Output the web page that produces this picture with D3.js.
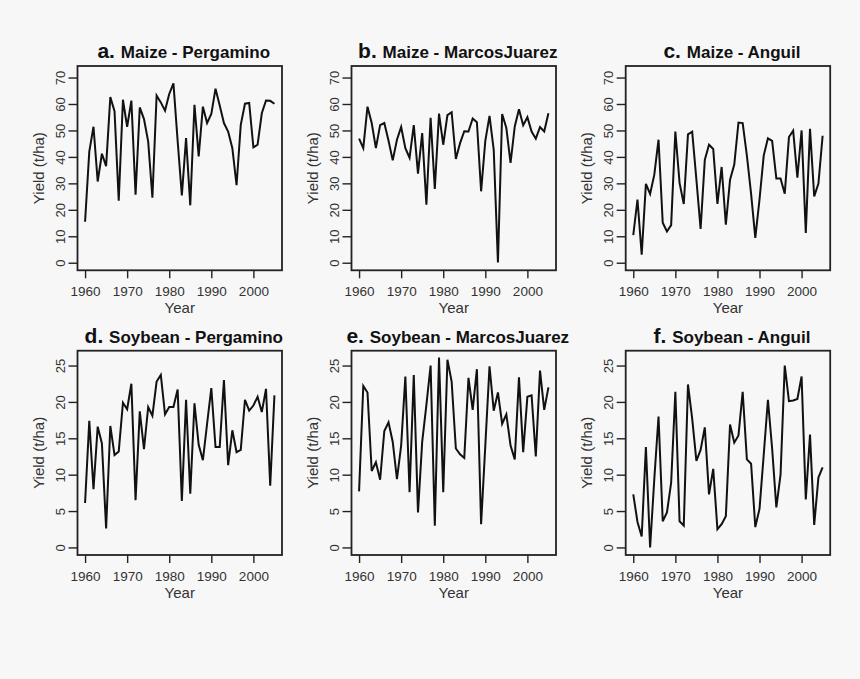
<!DOCTYPE html>
<html>
<head>
<meta charset="utf-8">
<script src="https://cdn.jsdelivr.net/npm/d3@7/dist/d3.min.js"></script>
<style>
  html, body { margin: 0; padding: 0; background: #f7f7f7; }
  svg { display: block; }
  text { font-family: "Liberation Sans", Arial, Helvetica, sans-serif; }
</style>
</head>
<body>
<svg id="chart" width="860" height="679"></svg>
<script>
// ---------------- DATA ----------------
const years = [1960,1961,1962,1963,1964,1965,1966,1967,1968,1969,
               1970,1971,1972,1973,1974,1975,1976,1977,1978,1979,
               1980,1981,1982,1983,1984,1985,1986,1987,1988,1989,
               1990,1991,1992,1993,1994,1995,1996,1997,1998,1999,
               2000,2001,2002,2003,2004,2005];

const maizePergamino = [15.5,42.0,51.4,30.7,41.2,36.5,62.6,57.3,23.4,61.6,
                        51.4,61.3,25.7,58.7,54.3,45.8,24.6,63.2,60.6,57.5,
                        63.8,67.8,46.0,25.4,47.1,21.7,59.7,40.2,59.0,52.8,
                        56.2,65.8,59.4,52.8,49.6,43.3,29.3,52.1,60.1,60.4,
                        43.6,44.6,56.5,61.3,61.2,60.1];
const maizeMarcosJuarez = [46.9,43.3,59.0,52.8,43.3,52.0,52.8,46.1,38.7,46.5,
                           51.3,43.3,39.7,52.0,33.7,49.0,21.9,54.8,27.9,56.4,
                           44.6,55.8,56.9,39.2,45.2,49.7,49.6,54.5,53.1,27.0,
                           46.1,55.5,42.7,0.1,56.2,50.9,37.7,51.5,58.0,52.0,
                           55.0,49.6,46.9,51.3,49.6,56.5];
const maizeAnguil = [10.4,23.9,3.0,29.8,26.0,33.3,46.5,15.1,11.8,14.2,
                     49.6,30.2,22.2,48.5,49.5,31.4,12.8,38.9,44.6,43.0,
                     22.2,36.2,14.4,31.4,37.1,53.0,52.8,40.5,26.0,9.4,
                     23.9,40.5,47.0,46.1,31.8,31.8,26.1,47.5,49.9,32.2,
                     50.0,11.3,50.6,25.1,29.9,48.0];
const soyPergamino = [6.1,17.4,8.0,16.6,14.3,2.6,16.7,12.7,13.2,19.9,
                      19.0,22.5,6.5,18.7,13.5,19.3,18.1,22.8,23.7,18.3,
                      19.3,19.3,21.7,6.4,20.3,7.4,19.8,14.1,12.0,17.0,
                      21.9,13.8,13.8,23.0,11.3,16.1,13.1,13.4,20.3,18.8,
                      19.5,20.7,18.6,21.8,8.5,20.9];
const soyMarcosJuarez = [7.7,22.2,21.3,10.5,11.7,9.3,16.0,17.2,14.5,9.4,
                         14.0,23.5,7.6,23.7,4.8,14.5,19.6,25.0,3.0,26.1,
                         7.6,25.8,22.8,13.6,12.8,12.3,23.3,18.9,24.5,3.2,
                         14.0,24.9,18.8,21.3,17.0,18.3,14.0,12.1,23.4,13.1,
                         20.7,20.9,12.5,24.3,18.9,22.0];
const soyAnguil = [7.3,3.5,1.5,13.8,0.0,9.4,18.0,3.6,4.8,8.9,
                   21.4,3.6,3.0,22.4,17.7,11.9,13.4,16.5,7.3,10.8,
                   2.5,3.2,4.3,16.9,14.4,15.4,21.4,12.1,11.5,2.8,
                   5.3,12.7,20.3,13.6,5.5,10.0,25.0,20.1,20.2,20.4,
                   23.5,6.6,15.5,3.1,9.6,11.0];

const panelLetters = ["a.", "b.", "c.", "d.", "e.", "f."];
const panelTitles = ["Maize - Pergamino", "Maize - MarcosJuarez", "Maize - Anguil",
                     "Soybean - Pergamino", "Soybean - MarcosJuarez", "Soybean - Anguil"];
const xTicks = [1960, 1970, 1980, 1990, 2000];
const yTicksMaize = [0, 10, 20, 30, 40, 50, 60, 70];
const yTicksSoy = [0, 5, 10, 15, 20, 25];
const xLabel = "Year";
const yLabel = "Yield (t/ha)";

// ---------------- LAYOUT ----------------
const seriesList = [maizePergamino, maizeMarcosJuarez, maizeAnguil,
                    soyPergamino, soyMarcosJuarez, soyAnguil];
const colLefts = [77.5, 351.5, 625.7];
const rowTops = [66, 350.7];
const plotW = 204.5;
const plotH = 204.3;
const xLim = [1960, 2005];
const yLimMaize = [0, 71.5];
const yLimSoy = [0, 26];
function padLim(l) { const d = (l[1] - l[0]) * 0.04; return [l[0] - d, l[1] + d]; }

const svg = d3.select("#chart");
svg.append("rect").attr("width", 860).attr("height", 679).attr("fill", "#f7f7f7");

seriesList.forEach((vals, i) => {
  const col = i % 3, row = Math.floor(i / 3);
  const left = colLefts[col], top = rowTops[row];
  const g = svg.append("g").attr("transform", `translate(${left},${top})`);

  const x = d3.scaleLinear().domain(padLim(xLim)).range([0, plotW]);
  const y = d3.scaleLinear().domain(padLim(row === 0 ? yLimMaize : yLimSoy)).range([plotH, 0]);
  const yTicks = row === 0 ? yTicksMaize : yTicksSoy;

  // x axis
  const xa = g.append("g").attr("transform", `translate(0,${plotH})`)
    .call(d3.axisBottom(x).tickValues(xTicks).tickFormat(d3.format("d")).tickSize(8).tickPadding(8));
  xa.select(".domain").remove();
  xa.selectAll(".tick line").attr("stroke", "#222").attr("stroke-width", 1.4);
  xa.selectAll(".tick text").attr("font-size", 13.5).attr("fill", "#333");

  // y axis
  const ya = g.append("g")
    .call(d3.axisLeft(y).tickValues(yTicks).tickSize(9).tickPadding(4));
  ya.select(".domain").remove();
  ya.selectAll(".tick line").attr("stroke", "#222").attr("stroke-width", 1.4);
  ya.selectAll(".tick text")
    .attr("font-size", 13).attr("fill", "#333")
    .attr("text-anchor", "middle")
    .attr("transform", "rotate(-90)")
    .attr("x", 0).attr("y", -12.5).attr("dy", 0);

  // line
  const line = d3.line().x((d, j) => x(years[j])).y(d => y(d));
  g.append("path").datum(vals)
    .attr("d", line)
    .attr("fill", "none")
    .attr("stroke", "#111")
    .attr("stroke-width", 2)
    .attr("stroke-linejoin", "miter");

  // box
  g.append("rect").attr("x", 0).attr("y", 0).attr("width", plotW).attr("height", plotH)
    .attr("fill", "none").attr("stroke", "#222").attr("stroke-width", 1.8);

  // title
  const t = g.append("text").attr("x", plotW / 2 + 4).attr("y", -8)
    .attr("text-anchor", "middle").attr("fill", "#111");
  t.append("tspan").attr("font-size", 21).attr("font-weight", "bold").text(panelLetters[i] + " ");
  t.append("tspan").attr("font-size", 17).attr("font-weight", "bold").text(panelTitles[i]);

  // axis labels
  g.append("text").attr("x", plotW / 2).attr("y", plotH + 43)
    .attr("text-anchor", "middle").attr("font-size", 15).attr("fill", "#333").text(xLabel);
  g.append("text")
    .attr("transform", `translate(-39, ${plotH / 2}) rotate(-90)`)
    .attr("text-anchor", "middle").attr("dy", "0.35em")
    .attr("font-size", 15).attr("fill", "#333").text(yLabel);
});
</script>
</body>
</html>
